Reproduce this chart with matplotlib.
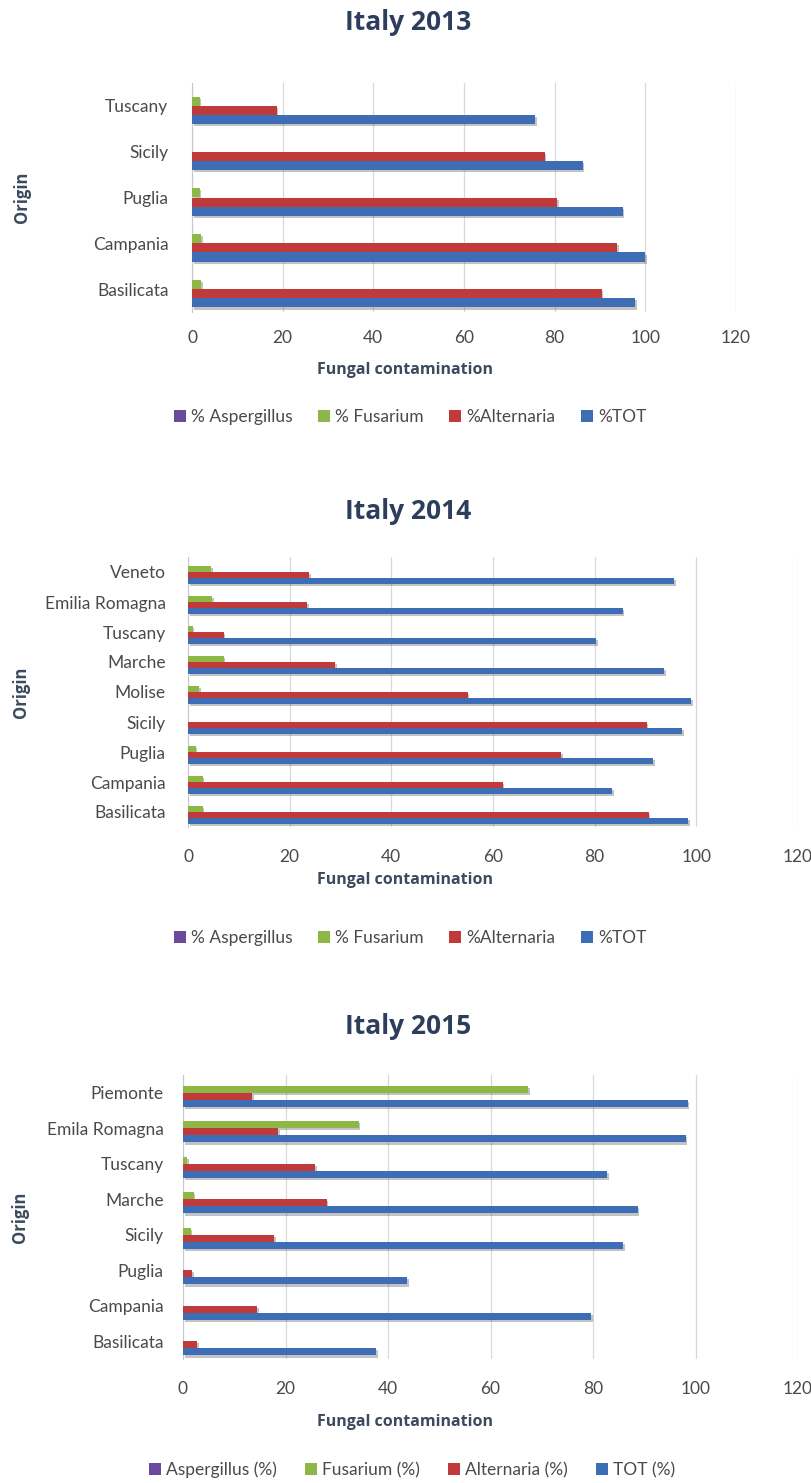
import numpy as np
import matplotlib
matplotlib.use("Agg")
import matplotlib.pyplot as plt
import matplotlib.patheffects as pe
from matplotlib.patches import Patch

plt.rcParams['font.family'] = ['Lato', 'DejaVu Sans']

# --- data (percent of samples), categories listed top to bottom ---
cat_2013 = ["Tuscany", "Sicily", "Puglia", "Campania", "Basilicata"]
asp_2013 = [0, 0, 0, 0, 0]
fus_2013 = [1.7, 0, 1.7, 2.0, 2.0]
alt_2013 = [18.7, 77.8, 80.6, 93.8, 90.4]
tot_2013 = [75.7, 86.2, 95.0, 100.0, 97.7]

cat_2014 = ["Veneto", "Emilia Romagna", "Tuscany", "Marche", "Molise",
            "Sicily", "Puglia", "Campania", "Basilicata"]
asp_2014 = [0, 0, 0, 0, 0, 0, 0, 0, 0]
fus_2014 = [4.5, 4.8, 0.9, 7.0, 2.2, 0, 1.5, 2.9, 2.9]
alt_2014 = [23.8, 23.5, 7.0, 29.0, 55.0, 90.2, 73.4, 61.9, 90.6]
tot_2014 = [95.6, 85.5, 80.3, 93.7, 99.0, 97.2, 91.5, 83.4, 98.4]

cat_2015 = ["Piemonte", "Emila Romagna", "Tuscany", "Marche", "Sicily",
            "Puglia", "Campania", "Basilicata"]
asp_2015 = [0, 0, 0, 0, 0, 0, 0, 0]
fus_2015 = [67.3, 34.3, 0.8, 2.1, 1.5, 0, 0, 0]
alt_2015 = [13.5, 18.6, 25.8, 28.0, 17.8, 1.8, 14.5, 2.8]
tot_2015 = [98.5, 98.1, 82.8, 88.7, 85.9, 43.7, 79.6, 37.7]

labels_pct = ["% Aspergillus", "% Fusarium", "%Alternaria", "%TOT"]
labels_par = ["Aspergillus (%)", "Fusarium (%)", "Alternaria (%)", "TOT (%)"]

colors = ["#6A4A9C", "#8EB846", "#C0393B", "#3D6DB5"]
title_col = "#2D3E5C"
label_col = "#3B4A5E"
tick_col = "#4A4A4A"

W, H = 811, 1483
fig = plt.figure(figsize=(W / 100, H / 100), dpi=100)


def px_axes(left, top, right, bottom):
    return fig.add_axes([left / W, 1 - bottom / H, (right - left) / W, (bottom - top) / H])


def ftext(x, y, s, **kw):
    fig.text(x / W, 1 - y / H, s, ha='center', va='center', **kw)


shadow = [pe.SimplePatchShadow(offset=(1.2, -1.5), shadow_rgbFace='#555555', alpha=0.35), pe.Normal()]


def panel(box, cats, series, title, title_y, xlab_y, leg_y, leg_x, legend_labels, origin_x,
          tick_pad, cat_pad, colspace):
    ax = px_axes(*box)
    n = len(cats)
    y = np.arange(n)
    h = 0.2
    offsets = [-1.5 * h, -0.5 * h, 0.5 * h, 1.5 * h]
    for vals, off, c in zip(series, offsets, colors):
        ax.barh(y + off, vals, height=h, color=c, edgecolor='none',
                path_effects=shadow, zorder=3)
    ax.set_xlim(0, 120)
    ax.set_ylim(n - 0.5, -0.5)
    ax.set_xticks(np.arange(0, 121, 20))
    ax.set_yticks(y)
    ax.set_yticklabels(cats)
    ax.grid(axis='x', color='#D9D9D9', linewidth=0.9, zorder=0)
    ax.set_axisbelow(True)
    for s in ['top', 'right', 'bottom']:
        ax.spines[s].set_visible(False)
    ax.spines['left'].set_color('#C8C8C8')
    ax.tick_params(axis='both', length=0, labelsize=12.5, colors=tick_col)
    ax.tick_params(axis='x', pad=tick_pad)
    ax.tick_params(axis='y', pad=cat_pad)

    ftext(408, title_y, title, fontsize=19, fontweight='bold', color=title_col,
          family=['Open Sans', 'DejaVu Sans'])
    ftext(405, xlab_y, "Fungal contamination", fontsize=11.5, fontweight='bold',
          color=label_col, family=['Open Sans', 'DejaVu Sans'])
    ftext(origin_x, (box[1] + box[3]) / 2, "Origin", fontsize=12, fontweight='bold',
          color=label_col, rotation=90, family=['Open Sans', 'DejaVu Sans'])

    handles = [Patch(facecolor=c, edgecolor='none') for c in colors]
    fig.legend(handles, legend_labels, loc='center', ncol=4, frameon=False,
               bbox_to_anchor=(leg_x / W, 1 - leg_y / H), fontsize=12.5,
               handlelength=0.7, handleheight=0.7, handletextpad=0.3,
               columnspacing=colspace, labelcolor=tick_col)
    return ax


panel((192, 83, 736, 312), cat_2013, [asp_2013, fus_2013, alt_2013, tot_2013],
      "Italy 2013", 22, 370, 417, 410, labels_pct, 22, 13, 17, 1.45)
panel((188, 557, 798, 827), cat_2014, [asp_2014, fus_2014, alt_2014, tot_2014],
      "Italy 2014", 512, 880, 938, 410, labels_pct, 21, 16, 16, 1.45)
panel((183, 1075, 798, 1359), cat_2015, [asp_2015, fus_2015, alt_2015, tot_2015],
      "Italy 2015", 1027, 1422, 1470, 412, labels_par, 20, 16, 14, 1.6)

fig.savefig("out.png", dpi=100, facecolor='white')
